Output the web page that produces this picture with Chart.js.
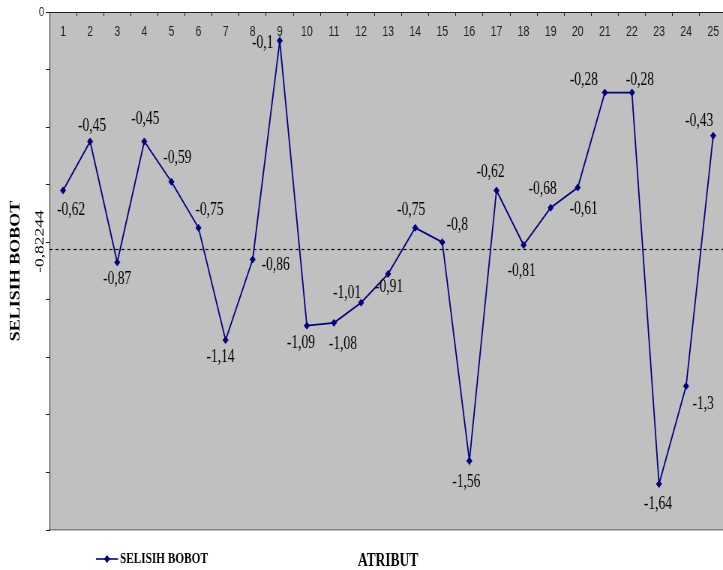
<!DOCTYPE html>
<html>
<head>
<meta charset="utf-8">
<title>Selisih Bobot per Atribut</title>
<script src="https://cdn.jsdelivr.net/npm/chart.js@4/dist/chart.umd.min.js"></script>
<style>
  html, body { margin: 0; padding: 0; background: #fff; overflow: hidden; }
  #wrap { position: absolute; left: 0; top: 0; width: 974px; height: 570px;
          transform: scaleX(0.75); transform-origin: 0 0; }
</style>
</head>
<body>
<div id="wrap"><canvas id="chart" width="974" height="570"></canvas></div>
<script>
// Attribute numbers along the top axis
const CATEGORIES = ['1','2','3','4','5','6','7','8','9','10','11','12','13',
                    '14','15','16','17','18','19','20','21','22','23','24','25'];
// Weight difference per attribute
const VALUES = [-0.62, -0.45, -0.87, -0.45, -0.59, -0.75, -1.14, -0.86, -0.1,
                -1.09, -1.08, -1.01, -0.91, -0.75, -0.8, -1.56, -0.62, -0.81,
                -0.68, -0.61, -0.28, -0.28, -1.64, -1.3, -0.43];
// Mean weight difference (dashed reference line)
const AVERAGE = -0.82244;
// Value axis range and tick labels
const Y_MIN = -1.8;
const Y_MAX = 0;
const Y_STEP = 0.2;
const Y_TICK_LABELS = ['0'];

// Horizontal squeeze of the whole drawing
const SX = 0.75;
// Where each value label sits relative to its point (screen px)
const LABEL_OFFSETS = [[8,20],[2,-15],[0,17],[1,-22],[6,-24],[11,-18],[-5,17],[23,6],
  [-17,2],[-6,18],[9,21],[-14,-9],[1,13],[-4,-18],[15,-17],[-3,21],[-6,-18],[-2,26],
  [-8,-18],[6,22],[-21,-12],[8,-12],[-1,20],[17,18],[-14,-14]];

const fmt = v => String(v).replace('.', ',');
const LINE_COLOR = '#000080';

const decor = {
  id: 'decor',
  beforeDraw(chart) {
    const { ctx, chartArea: a, width, height } = chart;
    ctx.save();
    ctx.fillStyle = '#ffffff';
    ctx.fillRect(0, 0, width, height);
    ctx.fillStyle = '#c0c0c0';
    ctx.fillRect(a.left, a.top, a.right - a.left, a.bottom - a.top);
    ctx.restore();
  },
  beforeDatasetsDraw(chart) {
    const { ctx, chartArea: a, scales: { y } } = chart;
    const py = Math.round(y.getPixelForValue(AVERAGE)) + 0.5;
    ctx.save();
    ctx.strokeStyle = '#000';
    ctx.lineWidth = 1.2;
    ctx.setLineDash([4, 4]);
    ctx.beginPath();
    ctx.moveTo(a.left, py);
    ctx.lineTo(a.right, py);
    ctx.stroke();
    ctx.setLineDash([]);
    ctx.translate(40 / SX, py - 8);
    ctx.rotate(-Math.PI / 2);
    ctx.font = '17.5px "Liberation Serif"';
    ctx.fillStyle = '#000';
    ctx.textAlign = 'center';
    ctx.textBaseline = 'middle';
    ctx.fillText(fmt(AVERAGE), 0, 0);
    ctx.restore();
  },
  afterDatasetsDraw(chart) {
    const { ctx } = chart;
    const meta = chart.getDatasetMeta(0);
    const data = chart.data.datasets[0].data;
    ctx.save();
    ctx.font = '18px "Liberation Serif"';
    ctx.fillStyle = '#000';
    ctx.textAlign = 'center';
    ctx.textBaseline = 'middle';
    meta.data.forEach((pt, i) => {
      const [dx, dy] = LABEL_OFFSETS[i];
      ctx.fillText(fmt(data[i]), pt.x + dx / SX, pt.y + dy);
    });
    ctx.restore();
  },
  afterDraw(chart) {
    // legend entry: line with diamond marker, then the series name
    const { ctx } = chart;
    const ds = chart.data.datasets[0];
    const y = 559;
    const cx = 107 / SX;
    const r = 4;
    ctx.save();
    ctx.strokeStyle = ds.borderColor;
    ctx.lineWidth = 1.6;
    ctx.beginPath();
    ctx.moveTo(96 / SX, y);
    ctx.lineTo(118 / SX, y);
    ctx.stroke();
    ctx.fillStyle = ds.backgroundColor;
    ctx.beginPath();
    ctx.moveTo(cx, y - r);
    ctx.lineTo(cx + r, y);
    ctx.lineTo(cx, y + r);
    ctx.lineTo(cx - r, y);
    ctx.closePath();
    ctx.fill();
    ctx.font = 'bold 15px "Liberation Serif"';
    ctx.fillStyle = '#000';
    ctx.textAlign = 'left';
    ctx.textBaseline = 'middle';
    ctx.fillText(ds.label, 120 / SX, y + 0.5);
    ctx.restore();
  }
};

new Chart(document.getElementById('chart'), {
  type: 'line',
  data: {
    labels: CATEGORIES,
    datasets: [{
      label: 'SELISIH BOBOT',
      data: VALUES,
      borderColor: LINE_COLOR,
      backgroundColor: LINE_COLOR,
      borderWidth: 1.75,
      tension: 0,
      pointStyle: 'rectRot',
      pointRadius: 3.5,
      pointBorderWidth: 1,
      pointBackgroundColor: LINE_COLOR,
      pointBorderColor: LINE_COLOR,
      clip: false
    }]
  },
  options: {
    responsive: false,
    maintainAspectRatio: false,
    animation: false,
    events: [],
    layout: { padding: 0 },
    plugins: {
      legend: { display: false },
      tooltip: { enabled: false },
      title: { display: false }
    },
    scales: {
      x: {
        type: 'category',
        position: 'top',
        offset: true,
        grid: { offset: true, drawOnChartArea: false, tickLength: -4, color: '#222', lineWidth: 1 },
        border: { display: true, color: '#222', width: 1 },
        ticks: {
          mirror: true,
          padding: 12,
          autoSkip: false,
          maxRotation: 0,
          color: '#222',
          font: { family: '"Liberation Sans", Arial, sans-serif', size: 14 }
        },
        afterFit(scale) { scale.height = 12; }
      },
      x2: {
        type: 'category',
        axis: 'x',
        position: 'bottom',
        offset: true,
        grid: { display: false, drawTicks: false },
        border: { display: true, color: '#808080', width: 1.5 },
        ticks: { display: false },
        title: {
          display: true,
          text: 'ATRIBUT',
          color: '#000',
          font: { family: '"Liberation Serif", "Times New Roman", serif', size: 18, weight: 'bold' },
          padding: { top: 0, bottom: -2 }
        },
        afterFit(scale) { scale.height = 40; }
      },
      y: {
        type: 'linear',
        position: 'left',
        min: Y_MIN,
        max: Y_MAX,
        grid: { drawOnChartArea: false, tickLength: 5, color: '#222', lineWidth: 1 },
        border: { display: true, color: '#222', width: 1 },
        ticks: {
          stepSize: Y_STEP,
          padding: 2,
          color: '#222',
          font: { family: '"Liberation Sans", Arial, sans-serif', size: 13 },
          callback: v => (Math.abs(v) < 1e-9 ? Y_TICK_LABELS[0] : '')
        },
        title: {
          display: true,
          text: 'SELISIH BOBOT',
          color: '#000',
          font: { family: '"Liberation Serif", "Times New Roman", serif', size: 18, weight: 'bold' },
          padding: { top: 10.5, bottom: 0 }
        },
        afterFit(scale) { scale.width = 66; }
      }
    }
  },
  plugins: [decor]
});
</script>
</body>
</html>
